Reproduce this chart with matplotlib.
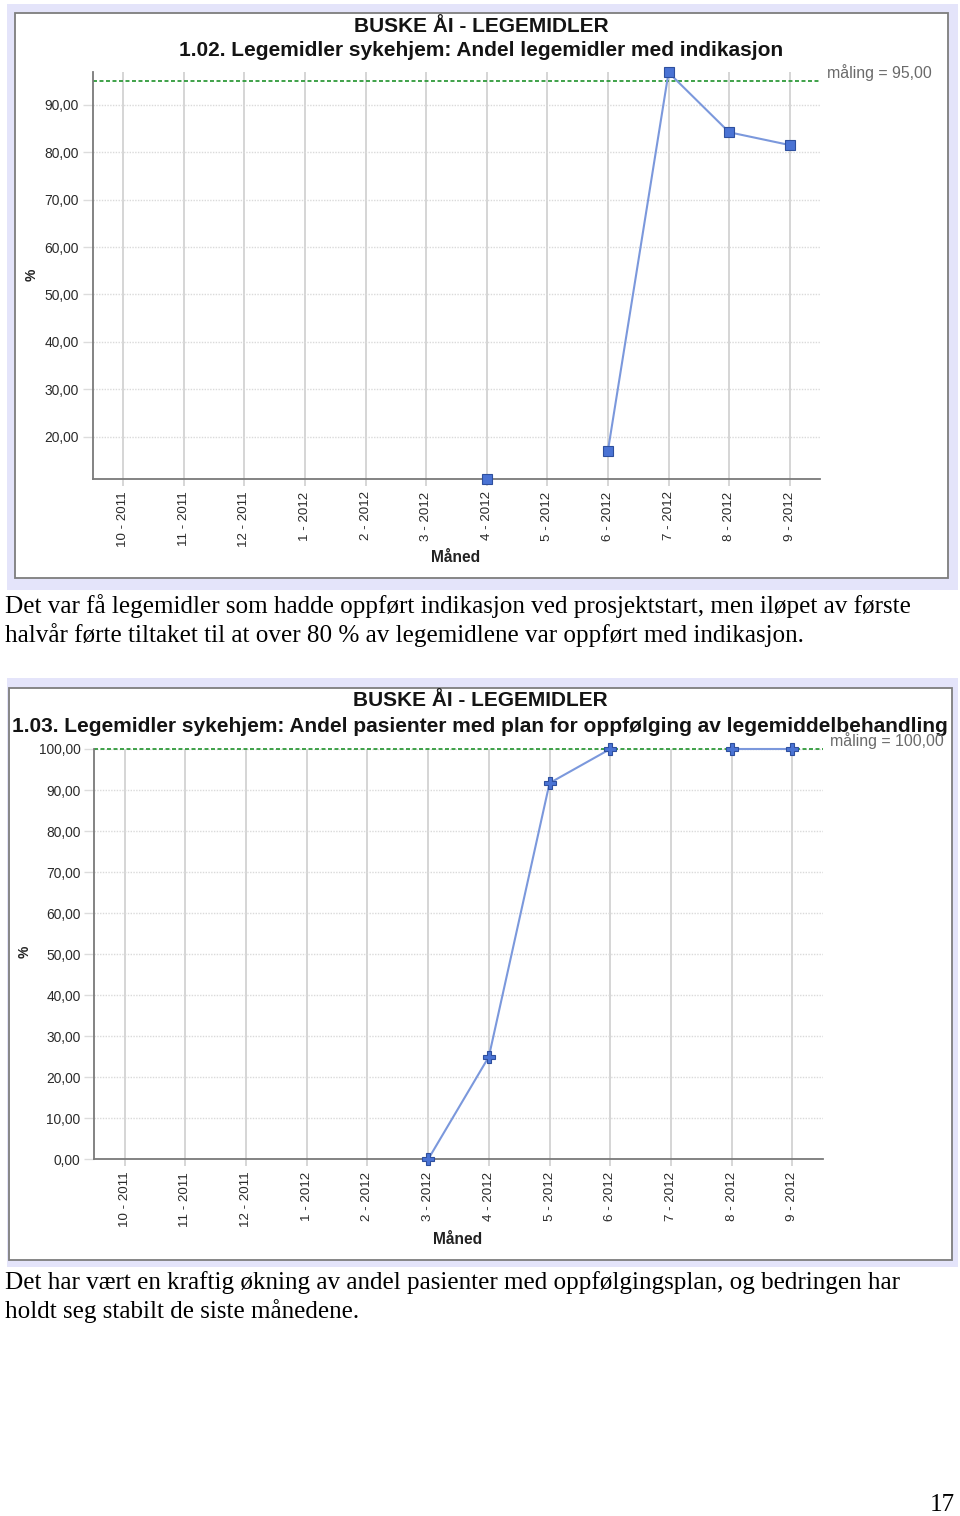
import numpy as np
import matplotlib
matplotlib.use("Agg")
import matplotlib.pyplot as plt
from matplotlib.patches import Rectangle

# ---------------- data ----------------
months = ["10 - 2011", "11 - 2011", "12 - 2011", "1 - 2012", "2 - 2012", "3 - 2012",
          "4 - 2012", "5 - 2012", "6 - 2012", "7 - 2012", "8 - 2012", "9 - 2012"]
nan = np.nan
indikasjon_values = [nan, nan, nan, nan, nan, nan, 11.1, nan, 17.1, 96.8, 84.2, 81.5]
indikasjon_target = 95.0
indikasjon_yticks = [20, 30, 40, 50, 60, 70, 80, 90]

plan_values = [nan, nan, nan, nan, nan, 0.0, 25.0, 91.7, 100.0, nan, 100.0, 100.0]
plan_target = 100.0
plan_yticks = [0, 10, 20, 30, 40, 50, 60, 70, 80, 90, 100]

header = "BUSKE ÅI - LEGEMIDLER"
title1 = "1.02. Legemidler sykehjem: Andel legemidler med indikasjon"
title2 = "1.03. Legemidler sykehjem: Andel pasienter med plan for oppfølging av legemiddelbehandling"
para1 = ["Det var få legemidler som hadde oppført indikasjon ved prosjektstart, men iløpet av første",
         "halvår førte tiltaket til at over 80 % av legemidlene var oppført med indikasjon."]
para2 = ["Det har vært en kraftig økning av andel pasienter med oppfølgingsplan, og bedringen har",
         "holdt seg stabilt de siste månedene."]
page_no = "17"

# ---------------- figure ----------------
W, H = 960, 1516
fig = plt.figure(figsize=(W / 100, H / 100), dpi=100)
fig.patch.set_facecolor("white")

SANS = "Liberation Sans"
SERIF = "Liberation Serif"

bg = fig.add_axes([0, 0, 1, 1], zorder=0)
bg.set_xlim(0, W)
bg.set_ylim(H, 0)
bg.axis("off")

LAV = "#e4e4fa"
# panels
for (x0, y0, x1, y1), (ix0, iy0, ix1, iy1) in [((7, 4, 958, 590), (15, 13, 948, 578)),
                                               ((7, 678, 958, 1267), (9, 688, 952, 1260))]:
    bg.add_patch(Rectangle((x0, y0), x1 - x0, y1 - y0, facecolor=LAV, edgecolor="none"))
    bg.add_patch(Rectangle((ix0, iy0), ix1 - ix0, iy1 - iy0, facecolor="white",
                           edgecolor="#7d7d7d", linewidth=1.3))

TFS = 15
# titles
bg.text(481, 27, header, ha="center", va="center", fontsize=TFS, fontweight="bold",
        family=SANS, color="#141414")
bg.text(481, 51, title1, ha="center", va="center", fontsize=TFS, fontweight="bold",
        family=SANS, color="#141414")
bg.text(480, 701, header, ha="center", va="center", fontsize=TFS, fontweight="bold",
        family=SANS, color="#141414")
bg.text(480, 726, title2, ha="center", va="center", fontsize=TFS, fontweight="bold",
        family=SANS, color="#141414")

# axis labels
bg.text(32, 275, "%", ha="center", va="center", rotation=90, fontsize=10,
        fontweight="bold", family=SANS, color="#222222")
bg.text(456, 558, "Måned", ha="center", va="center", fontsize=11.2,
        fontweight="bold", family=SANS, color="#222222")
bg.text(25, 952, "%", ha="center", va="center", rotation=90, fontsize=10,
        fontweight="bold", family=SANS, color="#222222")
bg.text(458, 1240, "Måned", ha="center", va="center", fontsize=11.2,
        fontweight="bold", family=SANS, color="#222222")

# paragraphs
PFS = 18.1
for i, line in enumerate(para1):
    bg.text(5, 606 + 29 * i, line, ha="left", va="center", fontsize=PFS, family=SERIF, color="black")
for i, line in enumerate(para2):
    bg.text(5, 1283 + 28 * i, line, ha="left", va="center", fontsize=PFS, family=SERIF, color="black")
bg.text(955, 1505, page_no, ha="right", va="center", fontsize=PFS, family=SERIF, color="black")


def make_axes(px_left, px_right, px_top, px_bottom):
    return fig.add_axes([px_left / W, 1 - px_bottom / H,
                         (px_right - px_left) / W, (px_bottom - px_top) / H], zorder=2)


def style_chart(ax, values, target, yticks, ylim, marker, msize, label):
    x = np.arange(len(months))
    ax.set_facecolor("none")
    ax.set_xlim(-0.5, len(months) - 0.5)
    ax.set_ylim(*ylim)
    for s in ["top", "right"]:
        ax.spines[s].set_visible(False)
    for s in ["left", "bottom"]:
        ax.spines[s].set_color("#7a7a7a")
        ax.spines[s].set_linewidth(1.3)
        ax.spines[s].set_zorder(3)
    ax.set_xticks(x)
    ax.set_xticklabels(months, rotation=90, fontsize=9.6, family=SANS, color="#2a2a2a")
    ax.set_yticks(yticks)
    ax.set_yticklabels([f"{v:.2f}".replace(".", ",") for v in yticks], fontsize=9.9,
                       family=SANS, color="#2a2a2a")
    ax.tick_params(axis="x", length=5, width=1.2, color="#cfcfcf", pad=4)
    ax.tick_params(axis="y", length=7, width=1.0, color="#dcdcdc", pad=3)
    ax.grid(axis="x", color="#d2d2d2", linewidth=1.3, linestyle="-", zorder=0)
    ax.grid(axis="y", color="#dadada", linewidth=1.0, linestyle=(0, (1, 1)), zorder=0)
    ax.set_axisbelow(True)
    ax.axhline(target, color="#2f9a3a", linewidth=1.3, linestyle=(0, (2.2, 1.4)),
               zorder=2.5, clip_on=False)
    ax.plot(x, values, color="#7b98dc", linewidth=1.5, zorder=4, clip_on=False)
    ax.plot(x, values, linestyle="none", marker=marker, markersize=msize,
            markerfacecolor="#4a73d4", markeredgecolor="#2e4f9e", markeredgewidth=0.8,
            zorder=5, clip_on=False)
    ax.annotate(label, xy=(1.0, target), xycoords=("axes fraction", "data"),
                xytext=(5, 0), textcoords="offset points", ha="left", va="bottom",
                fontsize=11.4, family=SANS, color="#6a6a6a", annotation_clip=False)


ax1 = make_axes(93, 820, 72, 479)
ind_arr = np.array(indikasjon_values, dtype=float)
style_chart(ax1, ind_arr, indikasjon_target, indikasjon_yticks,
            (np.nanmin(ind_arr), np.nanmax(ind_arr) + 0.1), "s", 7,
            "måling = " + f"{indikasjon_target:.2f}".replace(".", ","))

ax2 = make_axes(94.3, 822.7, 749, 1159.3)
style_chart(ax2, np.array(plan_values, dtype=float), plan_target, plan_yticks,
            (0, 100), "P", 8.5,
            "måling = " + f"{plan_target:.2f}".replace(".", ","))

fig.savefig("out.png", dpi=100, facecolor="white")
